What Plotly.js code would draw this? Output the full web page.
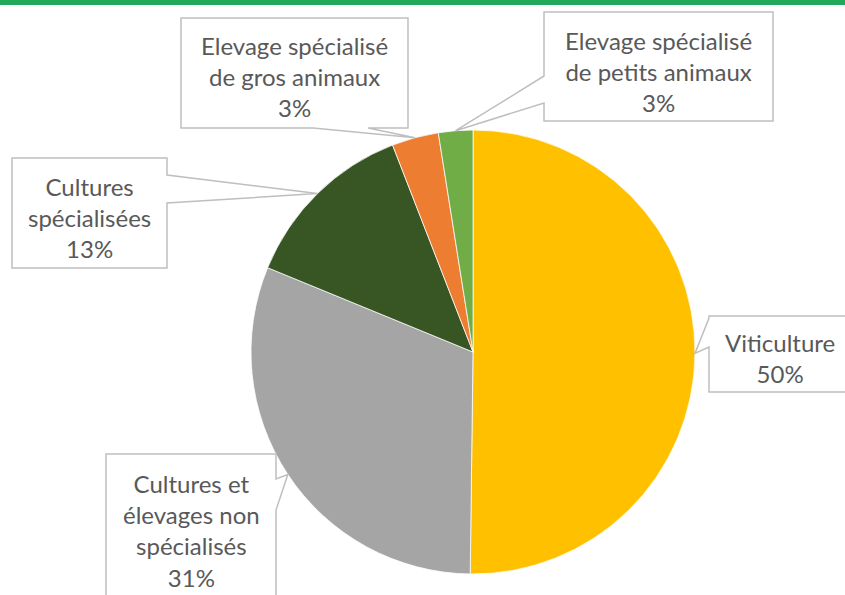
<!DOCTYPE html>
<html>
<head>
<meta charset="utf-8">
<script src="https://cdn.plot.ly/plotly-3.0.1.min.js"></script>
<style>html,body{margin:0;padding:0;background:#fff;}#chart{width:845px;height:595px;}</style>
</head>
<body>
<div id="chart"></div>
<script>
// ---- data ----
const categories = ['Viticulture', 'Cultures et élevages non spécialisés', 'Cultures spécialisées', 'Elevage spécialisé de gros animaux', 'Elevage spécialisé de petits animaux'];
const labelLines = ['Viticulture', 'Cultures et<br>élevages non<br>spécialisés', 'Cultures<br>spécialisées', 'Elevage spécialisé<br>de gros animaux', 'Elevage spécialisé<br>de petits animaux'];
const shares = [50.2, 31.0, 12.9, 3.4, 2.5];
const colors = ['#FFC000', '#A5A5A5', '#375623', '#ED7D31', '#70AD47'];

// ---- layout (pixels) ----
const W = 845, H = 595;
const cx = 473, cy = 352, R = 222;
// callout boxes: [x0, y0, x1, y1], side of notch, notch base start/end along that side
const boxes = [
  {b: [709, 316, 856, 392], side: 'left', n: [318, 347]},
  {b: [106, 454, 276, 612], side: 'right', n: [479, 510]},
  {b: [12, 158, 167, 268], side: 'right', n: [175, 203]},
  {b: [181, 18, 408, 128], side: 'bottom', n: [313, 368]},
  {b: [544, 12, 773, 121], side: 'left', n: [76, 103]}
];
const textCenters = [[780, 358], [191, 530], [89, 217], [294, 77], [658, 71]];

const px = x => x / W;
const py = y => 1 - y / H;

const total = shares.reduce((a, b) => a + b, 0);
let cum = 0;
const tips = shares.map(v => {
  const mid = (cum + v / 2) / total * 2 * Math.PI;
  cum += v;
  return [cx + R * Math.sin(mid), cy - R * Math.cos(mid)];
});

function calloutPath(bx, tip) {
  const [x0, y0, x1, y1] = bx.b;
  let pts;
  if (bx.side === 'left') {
    pts = [[x0, y0], [x1, y0], [x1, y1], [x0, y1], [x0, bx.n[1]], tip, [x0, bx.n[0]]];
  } else if (bx.side === 'right') {
    pts = [[x0, y0], [x1, y0], [x1, bx.n[0]], tip, [x1, bx.n[1]], [x1, y1], [x0, y1]];
  } else {
    pts = [[x0, y0], [x1, y0], [x1, y1], [bx.n[1], y1], tip, [bx.n[0], y1], [x0, y1]];
  }
  return 'M ' + pts.map(p => px(p[0]).toFixed(5) + ',' + py(p[1]).toFixed(5)).join(' L ') + ' Z';
}

const shapes = [
  {type: 'rect', xref: 'paper', yref: 'paper', x0: 0, x1: 1, y0: py(5), y1: 1,
   fillcolor: '#23A85A', line: {width: 0}}
];
boxes.forEach((bx, i) => {
  shapes.push({type: 'path', xref: 'paper', yref: 'paper', path: calloutPath(bx, tips[i]),
    fillcolor: '#FFFFFF', line: {color: '#BFBFBF', width: 1.5}, layer: 'above'});
});

const annotations = categories.map((c, i) => ({
  xref: 'paper', yref: 'paper', x: px(textCenters[i][0]), y: py(textCenters[i][1]),
  xanchor: 'center', yanchor: 'middle', showarrow: false, align: 'center',
  text: labelLines[i] + '<br>' + Math.round(shares[i] / total * 100) + '%',
  font: {family: 'Lato, sans-serif', size: 24, color: '#595959'}
}));

const trace = {
  type: 'pie',
  labels: categories,
  values: shares,
  sort: false,
  direction: 'clockwise',
  rotation: 0,
  textinfo: 'none',
  hoverinfo: 'label+percent',
  marker: {colors: colors, line: {color: '#FFFFFF', width: 0.75}},
  domain: {x: [px(cx - R), px(cx + R)], y: [py(cy + R), py(cy - R)]},
  showlegend: false
};

Plotly.newPlot('chart', [trace], {
  width: W, height: H,
  margin: {l: 0, r: 0, t: 0, b: 0},
  paper_bgcolor: '#FFFFFF',
  showlegend: false,
  shapes: shapes,
  annotations: annotations
}, {displayModeBar: false});
</script>
</body>
</html>
